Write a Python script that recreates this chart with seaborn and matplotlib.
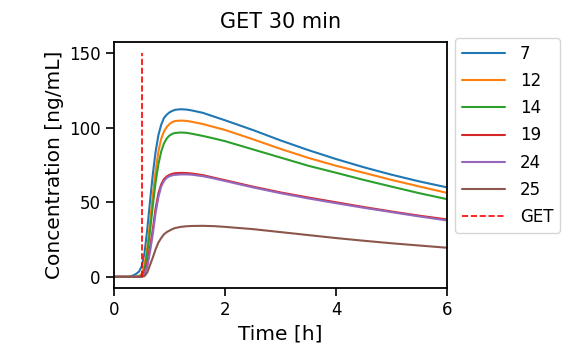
import matplotlib
matplotlib.use("Agg")
import matplotlib.pyplot as plt
import seaborn as sns
import pandas as pd

# time grid [h]
time_h = [0.0, 0.25, 0.3, 0.35, 0.4, 0.45, 0.5, 0.55, 0.6, 0.65, 0.7, 0.75, 0.8,
          0.85, 0.9, 0.95, 1.0, 1.05, 1.1, 1.2, 1.3, 1.4, 1.6, 1.8, 2.0, 2.5, 3.0,
          3.5, 4.0, 4.5, 5.0, 5.5, 6.0]

# concentration [ng/mL] per subject
conc_7 = [0, 0, 0.3, 1, 2, 3.5, 7, 16, 32, 51, 69, 84, 95,
          102, 106.5, 108.8, 110.3, 111.3, 112, 112.4, 112.2, 111.6, 110, 107.5, 105, 98.5, 91.5,
          85, 79, 73.5, 68.5, 64, 60]
conc_12 = [0, 0, 0, 0, 0.1, 0.5, 2, 8, 20, 37, 55, 71, 84,
           92.5, 97.5, 100.5, 102.5, 103.8, 104.5, 104.8, 104.6, 104, 102.5, 100.5, 98.5, 92.3, 85.8,
           79.8, 74.5, 69.8, 65, 60.6, 56.3]
conc_14 = [0, 0, 0, 0, 0, 0.2, 1, 5, 16, 31, 48, 63.5, 75.5,
           84, 89.5, 92.8, 94.8, 95.9, 96.5, 96.8, 96.6, 96, 94.5, 92.8, 91, 85.5, 80,
           74.5, 69.8, 65, 60.5, 56.1, 52.1]
conc_19 = [0, 0, 0, 0, 0, 0, 0.3, 3, 9, 20, 32, 46, 56,
           62, 65.5, 67.3, 68.4, 69.1, 69.5, 69.7, 69.6, 69.3, 68.2, 66.5, 64.8, 60.5, 56.6,
           53.2, 50, 46.8, 43.8, 41, 38.5]
conc_24 = [0, 0, 0, 0, 0, 0, 0.1, 2, 7, 17, 29, 43, 53.5,
           60.5, 64.3, 66.4, 67.5, 68.1, 68.4, 68.7, 68.7, 68.5, 67.5, 66, 64.3, 60, 56.1,
           52.6, 49.4, 46.3, 43.4, 40.5, 37.8]
conc_25 = [0, 0, 0, 0, 0, 0, 0, 0.5, 3, 8, 13, 18.5, 23,
           26, 28.5, 30, 31, 32, 32.7, 33.5, 33.9, 34.1, 34.2, 34, 33.5, 32, 30,
           28, 26, 24.2, 22.5, 21, 19.5]

subjects = ["7", "12", "14", "19", "24", "25"]
series = [conc_7, conc_12, conc_14, conc_19, conc_24, conc_25]

# gastric emptying time marker
get_time = [0.5, 0.5]
get_conc = [0, 150]

df = pd.concat(
    [pd.DataFrame({"Time [h]": time_h, "Concentration [ng/mL]": c, "Subject": s})
     for s, c in zip(subjects, series)],
    ignore_index=True,
)

sns.set_theme(style="ticks", rc={
    "axes.edgecolor": "black",
    "axes.linewidth": 1.3,
    "xtick.color": "black",
    "ytick.color": "black",
    "xtick.major.size": 6,
    "ytick.major.size": 6,
    "xtick.major.width": 1.2,
    "ytick.major.width": 1.2,
    "text.color": "black",
    "axes.labelcolor": "black",
})

fig = plt.figure(figsize=(5.68, 3.63), dpi=100)
ax = fig.add_axes([0.2007, 0.2066, 0.5863, 0.6777])

sns.lineplot(data=df, x="Time [h]", y="Concentration [ng/mL]", hue="Subject",
             hue_order=subjects, palette="tab10", linewidth=1.5, ax=ax)
ax.plot(get_time, get_conc, color="red", linestyle="--", linewidth=1.2, label="GET")

ax.set_xlim(0, 6)
ax.set_ylim(-7.5, 157.5)
ax.set_xticks([0, 2, 4, 6])
ax.set_yticks([0, 50, 100, 150])
ax.tick_params(labelsize=12)
ax.set_xlabel("Time [h]", fontsize=14.5)
ax.set_ylabel("Concentration [ng/mL]", fontsize=14.5)
ax.set_title("GET 30 min", fontsize=15, pad=10)

for sp in ax.spines.values():
    sp.set_visible(True)

ax.legend(loc="upper left", bbox_to_anchor=(1.024, 1.015), borderaxespad=0,
          fontsize=12, handlelength=2.6, handletextpad=0.9, labelspacing=0.55,
          frameon=True, fancybox=True, edgecolor="0.8")

fig.savefig("out.png", dpi=100)
